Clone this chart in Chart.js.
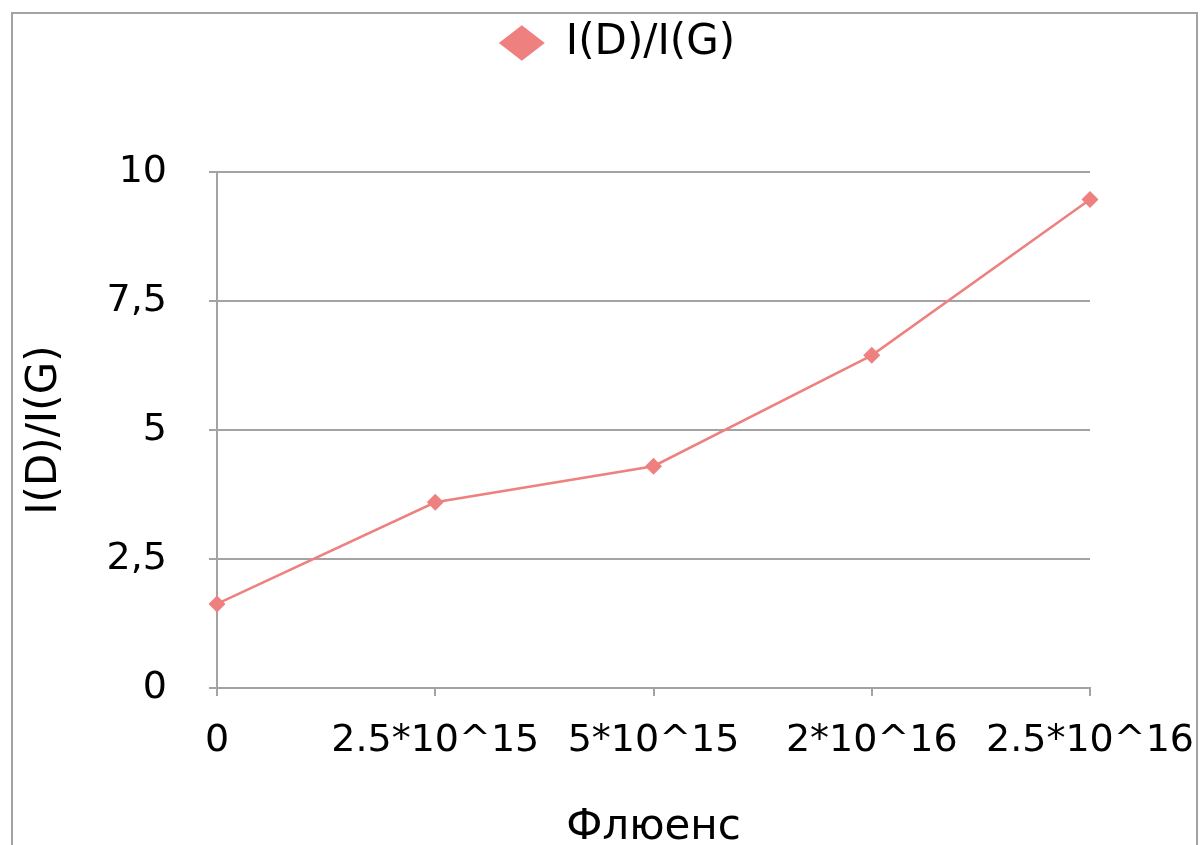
<!DOCTYPE html>
<html>
<head>
<meta charset="utf-8">
<script src="https://cdn.jsdelivr.net/npm/chart.js@4/dist/chart.umd.min.js"></script>
<style>
  html, body { margin: 0; padding: 0; background: #fff; overflow: hidden; }
  #wrap { position: relative; width: 1200px; height: 870px; }
  #frame {
    position: absolute; left: 11px; top: 12px; width: 1183px; height: 900px;
    border: 2px solid #a3a3a3; border-bottom: none; pointer-events: none;
  }
  canvas { position: absolute; left: 0; top: 0; }
</style>
</head>
<body>
<div id="wrap">
  <canvas id="chart" width="1200" height="870"></canvas>
  <div id="frame"></div>
</div>
<script>
const categories = ['0', '2.5*10^15', '5*10^15', '2*10^16', '2.5*10^16']
const ratioValues = [1.63, 3.6, 4.3, 6.45, 9.47]
const seriesName = 'I(D)/I(G)'
const yTitle = 'I(D)/I(G)'
const xTitle = 'Флюенс'

const FONT = 'DejaVu Sans'
const lineColor = '#ee8080'
const axisColor = '#a3a3a3'

Chart.defaults.font.family = FONT
Chart.defaults.color = '#000'

let ctx = document.getElementById('chart')
new Chart(ctx, {
  type: 'line',
  data: {
    labels: categories,
    datasets: [{
      label: seriesName,
      data: ratioValues,
      borderColor: lineColor,
      backgroundColor: lineColor,
      borderWidth: 2.5,
      pointStyle: 'rectRot',
      pointRadius: 8.5,
      pointBorderWidth: 0,
      tension: 0,
    }],
  },
  options: {
    responsive: false,
    animation: false,
    layout: {
      // left padding shifts the legend centre the way the original sits
      padding: { top: 12, right: 0, bottom: 0, left: 34 },
    },
    scales: {
      x: {
        offset: false,
        grid: {
          drawOnChartArea: false,
          drawTicks: true,
          tickLength: 8,
          color: axisColor,
          lineWidth: 2,
        },
        border: { display: true, color: axisColor, width: 2 },
        ticks: {
          font: { size: 38 },
          padding: 22,
          maxRotation: 0,
          autoSkip: false,
        },
        title: {
          display: true,
          text: xTitle,
          font: { size: 42 },
          padding: { top: 0, bottom: 17 },
        },
        afterFit: (scale) => {
          scale.height = 182
          scale.paddingLeft = 0
          scale.paddingRight = 110
        },
      },
      y: {
        min: 0,
        max: 10,
        ticks: {
          stepSize: 2.5,
          font: { size: 38 },
          padding: 42,
          callback: (v) => String(v).replace('.', ','),
        },
        grid: {
          color: axisColor,
          lineWidth: 2,
          tickLength: 8,
        },
        border: { display: true, color: axisColor, width: 2 },
        title: {
          display: true,
          text: yTitle,
          font: { size: 42 },
          padding: { top: -14, bottom: 0 },
        },
        afterFit: (scale) => { scale.width = 183 },
      },
    },
    plugins: {
      legend: {
        position: 'top',
        labels: {
          usePointStyle: true,
          pointStyle: 'rectRot',
          boxHeight: 25,
          pointStyleWidth: 46,
          padding: 10,
          font: { size: 42 },
        },
      },
      title: {
        display: true,
        text: '',
        weight: 500,
        font: { size: 1 },
        padding: { top: 0, bottom: 97 },
      },
      tooltip: { enabled: false },
    },
  },
})
</script>
</body>
</html>
